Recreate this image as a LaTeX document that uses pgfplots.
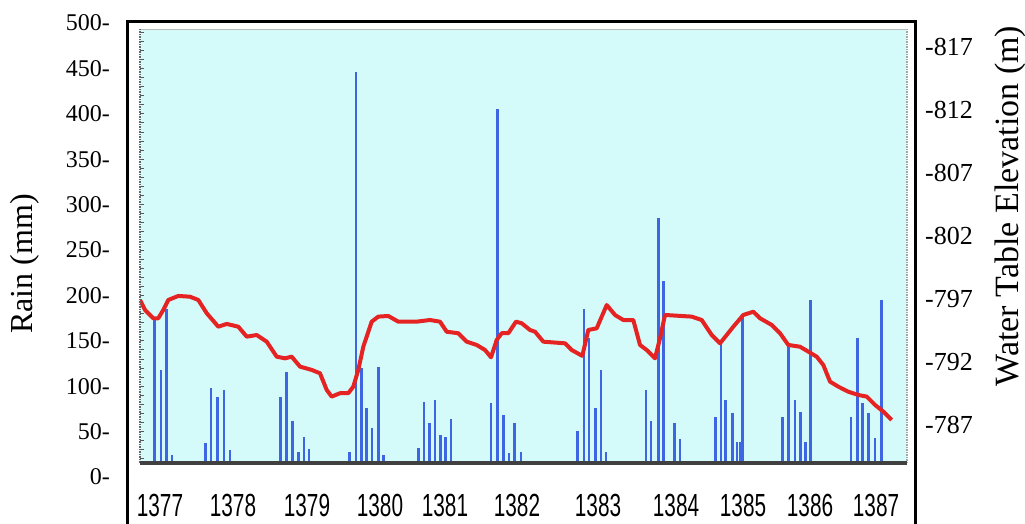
\documentclass[border=0pt]{standalone}
\usepackage{pgfplots}
\pgfplotsset{compat=1.18}
\usepackage{pgfplotstable}
\usepackage{fontspec}
\setmainfont{Liberation Serif}
\newfontfamily\tickfont{Liberation Sans}
\definecolor{bg}{RGB}{212,250,250}
\definecolor{barblue}{RGB}{62,102,226}
\definecolor{linered}{RGB}{230,35,35}
\newcommand\yr[1]{\scalebox{0.65}[1]{#1}}

\pgfplotstableread{
x rain
154.3 175
161 118
166.7 185
172 24
205.7 37
211 98
217.7 88
224 96
230 30
280.7 88
286.7 116
292.3 62
298.3 28
304 44
309 31
349.3 27
356 446
361.7 120
366.7 76
372 54
378.3 121
383.3 24
418.3 32
424 83
429.3 59
435 85
440.7 46
445.7 44
451 64
491 82
497.7 405
503.3 68
509 26
514.3 59
521 28
577.7 51
584 185
589 153
595.7 76
601 118
606 28
646 96
651 62
658.3 285
663.3 216
674.3 59
680 42
715.7 66
721 148
725.7 85
732.3 71
737 39
740 39
742.7 180
782.7 66
788.3 145
795 85
800.7 72
805.7 39
810.7 195
851 66
857.3 153
862.7 81
868.3 70
875 43
881.7 195
}\raintable

\pgfplotstableread{
x wt
140 -796.92
145 -796.13
153.3 -795.47
158.3 -795.47
163.3 -796.13
168.3 -796.92
178.3 -797.24
190 -797.18
198.3 -796.92
206.7 -795.87
218.3 -794.80
226.7 -795.02
238.3 -794.80
246.7 -794.01
256.7 -794.14
266.7 -793.61
276.7 -792.42
285 -792.29
291.7 -792.42
300 -791.63
311.7 -791.37
320 -791.10
326.7 -789.78
331.7 -789.25
340 -789.52
348.3 -789.52
353.3 -790.04
358.3 -791.37
363.3 -793.21
371.7 -795.20
378.3 -795.60
388.3 -795.65
398.3 -795.20
416.7 -795.20
430 -795.33
440 -795.20
446.7 -794.40
458.3 -794.28
466.7 -793.61
476.7 -793.35
485 -792.95
491 -792.37
496.7 -793.75
501.7 -794.28
508.3 -794.28
516 -795.20
521.7 -795.07
530 -794.54
535 -794.40
543.3 -793.61
565 -793.48
571.7 -792.95
582.3 -792.48
588.3 -794.54
596.7 -794.67
606.7 -796.52
615 -795.73
623.3 -795.33
633.3 -795.33
640 -793.35
646.7 -792.95
655 -792.29
660 -793.88
665 -795.73
691.7 -795.60
701.7 -795.33
711.7 -794.14
720 -793.48
733.3 -794.80
743.3 -795.73
753.3 -795.99
760 -795.47
771.7 -794.94
780 -794.28
788.3 -793.35
800 -793.21
808.3 -792.82
816.7 -792.42
823.3 -791.76
830 -790.44
838.3 -790.04
848.3 -789.64
858.3 -789.38
866.7 -789.25
875 -788.59
883.3 -788.06
891.7 -787.40
}\wttable

\begin{document}
\begin{tikzpicture}
\path[use as bounding box] (0pt,0pt) rectangle (1025pt,524pt);
% main axis: rain bars
\begin{axis}[at={(140pt,61pt)}, anchor=south west, scale only axis,
  width=767pt, height=434pt,
  xmin=140, xmax=907, ymin=15.4, ymax=493.4,
  axis background/.style={fill=bg},
  axis line style={draw=none},
  xtick={160,233,307,380,445,517,598,676,743,810,876},
  xticklabels={\yr{1377},\yr{1378},\yr{1379},\yr{1380},\yr{1381},\yr{1382},\yr{1383},\yr{1384},\yr{1385},\yr{1386},\yr{1387}},
  xticklabel style={font=\tickfont\fontsize{32}{36}\selectfont, anchor=center, yshift=-42pt},
  x tick style={draw=none},
  ytick={20,30,...,490}, yticklabels={},
  y tick style={black!65, line width=0.8pt},
  major tick length=4pt, tick align=inside, ytick pos=left,
]
\addplot[ycomb, barblue, line width=2.5pt] table[x=x,y=rain]{\raintable};
\end{axis}
% right axis: water table
\begin{axis}[at={(140pt,61pt)}, anchor=south west, scale only axis,
  width=767pt, height=434pt,
  xmin=140, xmax=907, ymin=-818.43, ymax=-783.98, y dir=reverse,
  hide x axis, axis y line*=right,
  axis line style={draw=gray!70, line width=2pt, dash pattern=on 1.5pt off 1pt},
  ytick={-817,-812,-807,-802,-797,-792,-787},
  yticklabels={-817,-812,-807,-802,-797,-792,-787},
  y tick style={draw=none},
  yticklabel style={font=\fontsize{26}{30}\selectfont, anchor=west, inner sep=0pt, xshift=18pt},
]
\addplot[linered, line width=4pt, line join=round] table[x=x,y=wt]{\wttable};
\end{axis}
% left labels axis
\begin{axis}[at={(140pt,47pt)}, anchor=south west, scale only axis,
  width=767pt, height=454pt,
  xmin=140, xmax=907, ymin=0, ymax=500,
  hide x axis, axis y line*=left, axis line style={draw=none},
  ytick={0,50,...,500},
  yticklabels={0-,50-,100-,150-,200-,250-,300-,350-,400-,450-,500-},
  y tick style={draw=none},
  yticklabel style={font=\fontsize{24}{28}\selectfont, anchor=east, inner sep=0pt, xshift=-30pt},
]
\addplot[draw=none] coordinates {(140,0)};
\end{axis}
% decorations
\draw[gray!55, line width=1.5pt] (140pt,494.5pt) -- (907pt,494.5pt);
\draw[black!60, line width=1.5pt, dash pattern=on 1.5pt off 1pt] (140pt,61pt) -- (140pt,495pt);
\draw[black!75, line width=3.5pt] (140pt,61pt) -- (907pt,61pt);
\draw[line width=3pt] (127pt,-20pt) -- (127pt,502pt) -- (915pt,502pt) -- (915pt,-20pt);
\node[rotate=90, font=\fontsize{32}{36}\selectfont] at (25pt,260pt) {Rain (mm)};
\node[rotate=90, font=\fontsize{34}{38}\selectfont] at (1010pt,318pt) {Water Table Elevation (m)};
\end{tikzpicture}
\end{document}
